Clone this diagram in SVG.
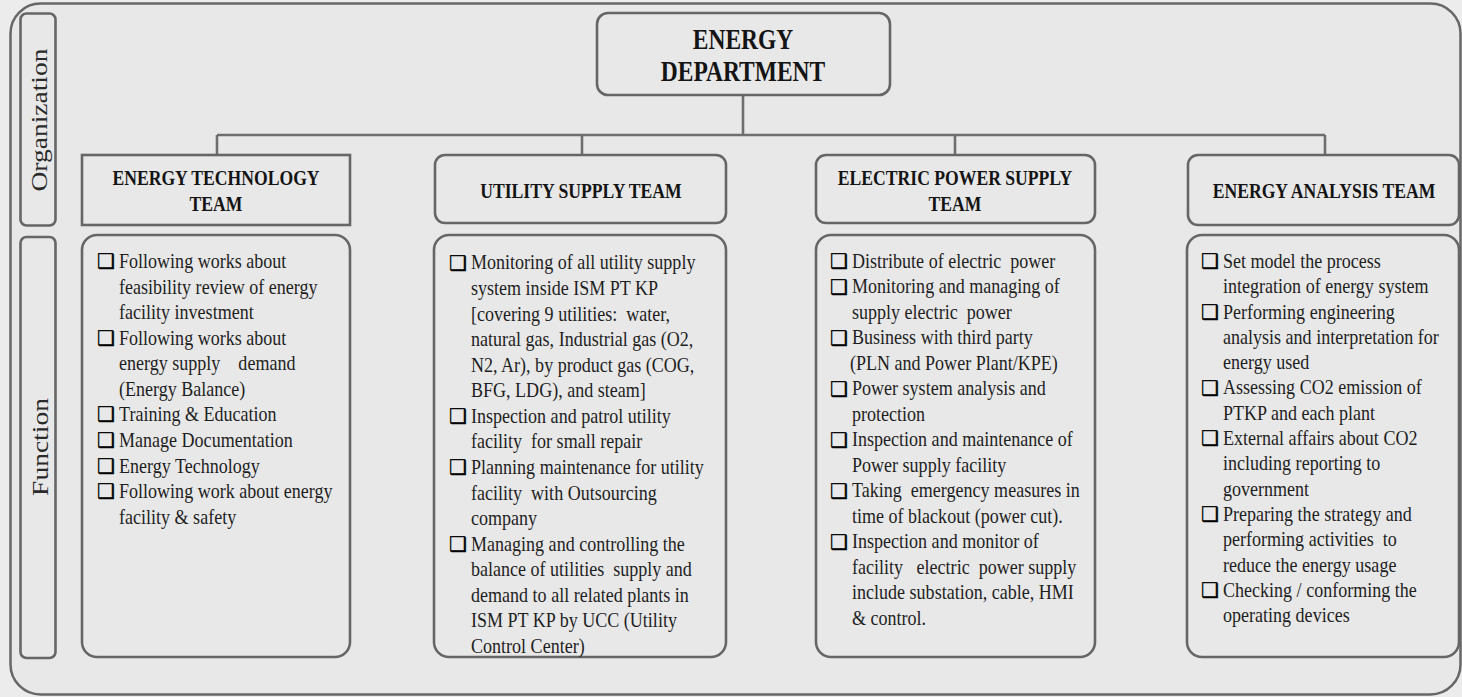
<svg xmlns="http://www.w3.org/2000/svg" width="1462" height="697" viewBox="0 0 1462 697">
<style>
.bg{fill:#ececec}
.frame{fill:#e8e8e8;stroke:#676767;stroke-width:2.5}
.box{fill:#e8e8e8;stroke:#666;stroke-width:2.6}
.conn{fill:none;stroke:#6e6e6e;stroke-width:2.6}
.body{font-family:"Liberation Serif","Times New Roman",serif;font-size:22px;fill:#1e1e1e}
.hdr{font-family:"Liberation Serif","Times New Roman",serif;font-size:21.5px;font-weight:bold;fill:#141414;text-anchor:middle}
.dept{font-family:"Liberation Serif","Times New Roman",serif;font-size:29px;font-weight:bold;fill:#141414;text-anchor:middle}
.side{font-family:"Liberation Serif","Times New Roman",serif;font-size:27.5px;fill:#2a2a2a;text-anchor:middle}
.bul{font-family:"DejaVu Sans",sans-serif;font-size:20px;fill:#000;stroke:#000;stroke-width:0.4}
</style>
<rect class="bg" x="0" y="0" width="1462" height="697"/>
<rect class="frame" x="10.5" y="3.5" width="1450" height="691" rx="30"/>

<g id="label-organization">
<rect class="box" x="20.5" y="13.5" width="35" height="212" rx="6"/>
<text class="side" transform="translate(47,120) rotate(-90) scale(1,0.85)">Organization</text>
</g>
<g id="label-function">
<rect class="box" x="20.5" y="237" width="35" height="421" rx="6"/>
<text class="side" transform="translate(47.5,447) rotate(-90) scale(1,0.85)">Function</text>
</g>

<g id="connectors">
<path class="conn" d="M743 95 V135 M217 135 H1325 M217 135 V155 M582 135 V155 M955 135 V155 M1325 135 V155"/>
</g>

<g id="energy-department">
<rect class="box" x="597" y="13" width="293" height="82" rx="11"/>
<g transform="translate(743,0) scale(0.81,1)">
<text class="dept"><tspan x="0" y="49">ENERGY</tspan><tspan x="0" y="81">DEPARTMENT</tspan></text>
</g>
</g>

<g id="energy-technology-team">
<rect class="box" x="82" y="155" width="268" height="70"/>
<g transform="translate(216,0) scale(0.82,1)">
<text class="hdr"><tspan x="0" y="185">ENERGY TECHNOLOGY</tspan><tspan x="0" y="211">TEAM</tspan></text>
</g>
</g>

<g id="utility-supply-team">
<rect class="box" x="435" y="155" width="291" height="68" rx="10"/>
<g transform="translate(581,0) scale(0.82,1)">
<text class="hdr"><tspan x="0" y="198">UTILITY SUPPLY TEAM</tspan></text>
</g>
</g>

<g id="electric-power-supply-team">
<rect class="box" x="816" y="155" width="279" height="68" rx="10"/>
<g transform="translate(955,0) scale(0.82,1)">
<text class="hdr"><tspan x="0" y="185">ELECTRIC POWER SUPPLY</tspan><tspan x="0" y="211">TEAM</tspan></text>
</g>
</g>

<g id="energy-analysis-team">
<rect class="box" x="1188" y="155" width="271" height="70" rx="10"/>
<g transform="translate(1324,0) scale(0.82,1)">
<text class="hdr"><tspan x="0" y="198">ENERGY ANALYSIS TEAM</tspan></text>
</g>
</g>

<g id="energy-technology-functions">
<rect class="box" x="82" y="235" width="268" height="422" rx="15"/>
<text class="bul"><tspan x="97" y="268">❑</tspan><tspan x="97" y="344.7">❑</tspan><tspan x="97" y="421.4">❑</tspan><tspan x="97" y="447">❑</tspan><tspan x="97" y="472.6">❑</tspan><tspan x="97" y="498.2">❑</tspan></text>
<g transform="translate(119,0) scale(0.82,1)">
<text class="body">
<tspan x="0" y="268">Following works about</tspan>
<tspan x="0" y="293.6">feasibility review of energy</tspan>
<tspan x="0" y="319.1">facility investment</tspan>
<tspan x="0" y="344.7">Following works about</tspan>
<tspan x="0" y="370.3">energy supply&#160;&#160;&#160; demand</tspan>
<tspan x="0" y="395.8">(Energy Balance)</tspan>
<tspan x="0" y="421.4">Training &amp; Education</tspan>
<tspan x="0" y="447">Manage Documentation</tspan>
<tspan x="0" y="472.6">Energy Technology</tspan>
<tspan x="0" y="498.2">Following work about energy</tspan>
<tspan x="0" y="523.7">facility &amp; safety</tspan>
</text>
</g>
</g>

<g id="utility-supply-functions">
<rect class="box" x="434" y="235" width="292" height="422" rx="15"/>
<text class="bul"><tspan x="449" y="269.5">❑</tspan><tspan x="449" y="422.9">❑</tspan><tspan x="449" y="474.1">❑</tspan><tspan x="449" y="550.8">❑</tspan></text>
<g transform="translate(471,0) scale(0.82,1)">
<text class="body">
<tspan x="0" y="269.5">Monitoring of all utility supply</tspan>
<tspan x="0" y="295.1">system inside ISM PT KP</tspan>
<tspan x="0" y="320.6">[covering 9 utilities:&#160; water,</tspan>
<tspan x="0" y="346.2">natural gas, Industrial gas (O2,</tspan>
<tspan x="0" y="371.8">N2, Ar), by product gas (COG,</tspan>
<tspan x="0" y="397.4">BFG, LDG), and steam]</tspan>
<tspan x="0" y="422.9">Inspection and patrol utility</tspan>
<tspan x="0" y="448.5">facility&#160; for small repair</tspan>
<tspan x="0" y="474.1">Planning maintenance for utility</tspan>
<tspan x="0" y="499.6">facility&#160; with Outsourcing</tspan>
<tspan x="0" y="525.2">company</tspan>
<tspan x="0" y="550.8">Managing and controlling the</tspan>
<tspan x="0" y="576.3">balance of utilities&#160; supply and</tspan>
<tspan x="0" y="601.9">demand to all related plants in</tspan>
<tspan x="0" y="627.5">ISM PT KP by UCC (Utility</tspan>
<tspan x="0" y="653">Control Center)</tspan>
</text>
</g>
</g>

<g id="electric-power-functions">
<rect class="box" x="816" y="235" width="279" height="422" rx="15"/>
<text class="bul"><tspan x="830" y="268">❑</tspan><tspan x="830" y="293.5">❑</tspan><tspan x="830" y="344.5">❑</tspan><tspan x="830" y="395.5">❑</tspan><tspan x="830" y="446.5">❑</tspan><tspan x="830" y="497.5">❑</tspan><tspan x="830" y="548.5">❑</tspan></text>
<g transform="translate(852,0) scale(0.82,1)">
<text class="body">
<tspan x="0" y="268">Distribute of electric&#160; power</tspan>
<tspan x="0" y="293.5">Monitoring and managing of</tspan>
<tspan x="0" y="319">supply electric&#160; power</tspan>
<tspan x="0" y="344.5">Business with third party</tspan>
<tspan x="-2.5" y="370">(PLN and Power Plant/KPE)</tspan>
<tspan x="0" y="395.5">Power system analysis and</tspan>
<tspan x="0" y="421">protection</tspan>
<tspan x="0" y="446.5">Inspection and maintenance of</tspan>
<tspan x="0" y="472">Power supply facility</tspan>
<tspan x="0" y="497.5">Taking&#160; emergency measures in</tspan>
<tspan x="0" y="523">time of blackout (power cut).</tspan>
<tspan x="0" y="548.5">Inspection and monitor of</tspan>
<tspan x="0" y="574">facility&#160;&#160; electric&#160; power supply</tspan>
<tspan x="0" y="599.5">include substation, cable, HMI</tspan>
<tspan x="0" y="625">&amp; control.</tspan>
</text>
</g>
</g>

<g id="energy-analysis-functions">
<rect class="box" x="1187" y="235" width="272" height="422" rx="15"/>
<text class="bul"><tspan x="1201" y="268">❑</tspan><tspan x="1201" y="318.6">❑</tspan><tspan x="1201" y="394.5">❑</tspan><tspan x="1201" y="445.1">❑</tspan><tspan x="1201" y="521">❑</tspan><tspan x="1201" y="596.9">❑</tspan></text>
<g transform="translate(1223,0) scale(0.82,1)">
<text class="body">
<tspan x="0" y="268">Set model the process</tspan>
<tspan x="0" y="293.3">integration of energy system</tspan>
<tspan x="0" y="318.6">Performing engineering</tspan>
<tspan x="0" y="343.9">analysis and interpretation for</tspan>
<tspan x="0" y="369.2">energy used</tspan>
<tspan x="0" y="394.5">Assessing CO2 emission of</tspan>
<tspan x="0" y="419.8">PTKP and each plant</tspan>
<tspan x="0" y="445.1">External affairs about CO2</tspan>
<tspan x="0" y="470.4">including reporting to</tspan>
<tspan x="0" y="495.7">government</tspan>
<tspan x="0" y="521">Preparing the strategy and</tspan>
<tspan x="0" y="546.3">performing activities&#160; to</tspan>
<tspan x="0" y="571.6">reduce the energy usage</tspan>
<tspan x="0" y="596.9">Checking / conforming the</tspan>
<tspan x="0" y="622.2">operating devices</tspan>
</text>
</g>
</g>
</svg>
